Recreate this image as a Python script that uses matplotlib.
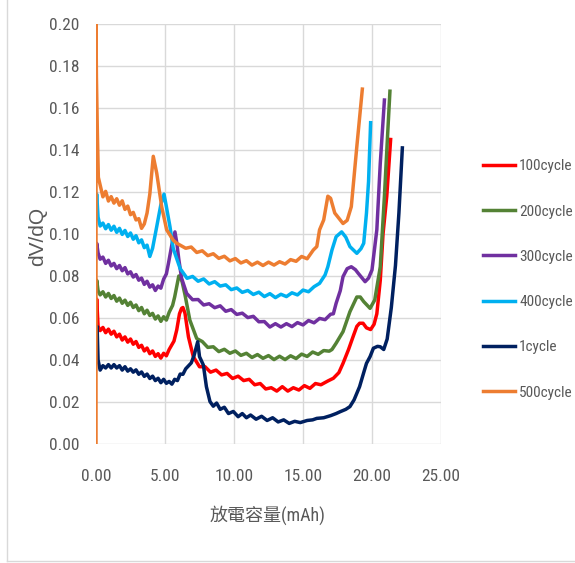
import numpy as np
import matplotlib
matplotlib.use("Agg")
import matplotlib.pyplot as plt
from matplotlib.lines import Line2D

plt.rcParams['font.family'] = ['Liberation Sans Narrow', 'Roboto Condensed', 'Roboto',
                               'Noto Sans CJK TC', 'DejaVu Sans']

# ---- data (capacity mAh, dV/dQ) ----
cap_100 = [0.02, 0.05, 0.15,
           0.3, 0.5, 0.7, 0.9, 1.1, 1.3, 1.5, 1.7, 1.9, 2.1, 2.3, 2.5, 2.7, 2.9, 3.1, 3.3,
           3.5, 3.7, 3.9, 4.1, 4.3, 4.5, 4.7, 4.9, 5.1, 5.3,
           5.65, 5.85, 6.05, 6.2, 6.3, 6.45, 6.7, 7.05,
           7.5, 7.9, 8.3, 8.7, 9.1, 9.5, 9.9, 10.3, 10.7, 11.1, 11.5, 11.9, 12.3, 12.7, 13.1,
           13.5, 13.9, 14.3, 14.7, 15.1, 15.5, 15.9, 16.3,
           16.8, 17.2, 17.6, 17.9, 18.3, 18.65, 18.9, 19.1, 19.35, 19.6, 19.9, 20.15, 20.35,
           20.6, 20.8, 21.07, 21.35]
dvdq_100 = [0.064, 0.069, 0.056,
            0.054, 0.0555, 0.053, 0.0547, 0.0523, 0.0537, 0.051, 0.0523, 0.0495, 0.051, 0.0485,
            0.050, 0.0475, 0.0488, 0.046, 0.047, 0.0443, 0.0457, 0.043, 0.0443, 0.0417, 0.043,
            0.0409, 0.0432, 0.042, 0.045,
            0.049, 0.0543, 0.062, 0.0646, 0.065, 0.0622, 0.051, 0.0416,
            0.0368, 0.0368, 0.0342, 0.0352, 0.0329, 0.0336, 0.0312, 0.0323, 0.0302, 0.0308,
            0.0282, 0.0288, 0.0262, 0.0268, 0.0252, 0.0273, 0.0252, 0.0268, 0.0257, 0.0278,
            0.0265, 0.0288, 0.0282,
            0.030, 0.0313, 0.034, 0.0384, 0.045, 0.0515, 0.056, 0.0575, 0.0575, 0.0553, 0.0545,
            0.057, 0.062, 0.078, 0.100, 0.118, 0.145]

cap_200 = [0.02, 0.05, 0.15,
           0.3, 0.5, 0.7, 0.9, 1.1, 1.3, 1.5, 1.7, 1.9, 2.1, 2.3, 2.5, 2.7, 2.9, 3.1, 3.3,
           3.5, 3.7, 3.9, 4.1, 4.3, 4.5, 4.7, 4.9, 5.1, 5.3,
           5.55, 5.7, 5.85, 6.0, 6.1, 6.25, 6.45, 6.8,
           7.3, 7.7, 8.1, 8.5, 8.9, 9.3, 9.7, 10.1, 10.5, 10.9, 11.3, 11.7, 12.1, 12.5, 12.9,
           13.3, 13.7, 14.1, 14.5, 14.9, 15.3, 15.7, 16.1, 16.5, 16.9,
           17.1, 17.4, 17.9, 18.4, 18.9, 19.15, 19.4, 19.86, 20.2, 20.6, 20.9, 21.15, 21.3]
dvdq_200 = [0.075, 0.078, 0.073,
            0.071, 0.0725, 0.070, 0.0717, 0.0693, 0.0707, 0.068, 0.0695, 0.067, 0.0685, 0.066,
            0.0675, 0.065, 0.0662, 0.0635, 0.065, 0.062, 0.0637, 0.0612, 0.0622, 0.0595, 0.061,
            0.0584, 0.0606, 0.059, 0.0627,
            0.066, 0.070, 0.075, 0.080, 0.080, 0.077, 0.071, 0.059,
            0.0502, 0.0488, 0.046, 0.0463, 0.044, 0.0451, 0.0432, 0.0443, 0.0422, 0.0432,
            0.0412, 0.0426, 0.0408, 0.0421, 0.0402, 0.0418, 0.0402, 0.042, 0.0407, 0.0428,
            0.0417, 0.0438, 0.0427, 0.0445, 0.0442,
            0.045, 0.048, 0.0535, 0.063, 0.070, 0.070, 0.0678, 0.0646, 0.0686, 0.0844, 0.118,
            0.1495, 0.168]

cap_300 = [0.02, 0.05, 0.15,
           0.3, 0.5, 0.7, 0.9, 1.1, 1.3, 1.5, 1.7, 1.9, 2.1, 2.3, 2.5, 2.7, 2.9, 3.1, 3.3,
           3.5, 3.7, 3.9, 4.1, 4.3, 4.5, 4.7, 4.9, 5.1,
           5.25, 5.5, 5.72, 5.85, 6.0, 6.2, 6.57,
           7.0, 7.4, 7.8, 8.2, 8.6, 9.0, 9.4, 9.8, 10.2, 10.6, 11.0, 11.4, 11.8, 12.2, 12.6,
           13.0, 13.4, 13.8, 14.2, 14.6, 15.0, 15.4, 15.8, 16.2, 16.6, 17.0,
           17.2, 17.4, 17.7, 17.9, 18.2, 18.5, 18.8, 19.0, 19.5, 19.75, 20.0, 20.35, 20.6, 20.9]
dvdq_300 = [0.093, 0.0956, 0.091,
            0.088, 0.089, 0.086, 0.0875, 0.0848, 0.086, 0.0835, 0.085, 0.0825, 0.084, 0.081,
            0.082, 0.0795, 0.0807, 0.078, 0.079, 0.076, 0.0775, 0.0747, 0.0758, 0.0731, 0.0752,
            0.0742, 0.0785, 0.081,
            0.086, 0.095, 0.101, 0.096, 0.088, 0.079, 0.0717,
            0.0687, 0.0688, 0.0662, 0.0668, 0.0649, 0.0658, 0.0632, 0.064, 0.0617, 0.0623,
            0.0602, 0.0608, 0.0582, 0.0583, 0.0557, 0.0573, 0.0557, 0.0573, 0.0559, 0.0578,
            0.0567, 0.0588, 0.0577, 0.0598, 0.0592, 0.0618,
            0.062, 0.067, 0.073, 0.0797, 0.0835, 0.0844, 0.083, 0.0813, 0.0773, 0.079, 0.0829,
            0.102, 0.1337, 0.1638]

cap_400 = [0.02, 0.05, 0.15,
           0.3, 0.5, 0.7, 0.9, 1.1, 1.3, 1.5, 1.7, 1.9, 2.1, 2.3, 2.5, 2.7, 2.9, 3.1, 3.3,
           3.5, 3.7, 3.9, 4.1,
           4.4, 4.7, 4.93, 5.1, 5.36, 5.6, 6.1,
           6.6, 7.0, 7.4, 7.8, 8.2, 8.6, 9.0, 9.4, 9.8, 10.2, 10.6, 11.0, 11.4, 11.8, 12.2,
           12.6, 13.0, 13.4, 13.8, 14.2, 14.6, 15.0, 15.4, 15.8,
           16.2, 16.6, 16.8, 17.1, 17.4, 17.8, 18.1, 18.4, 18.9, 19.2, 19.4, 19.6, 19.75, 19.9]
dvdq_400 = [0.115, 0.119, 0.108,
            0.1038, 0.1052, 0.1025, 0.1045, 0.1018, 0.1037, 0.1008, 0.1027, 0.0998, 0.1017,
            0.0988, 0.1005, 0.0975, 0.0992, 0.0958, 0.0972, 0.0935, 0.0947, 0.0893, 0.0932,
            0.1035, 0.114, 0.119, 0.113, 0.1035, 0.093, 0.0835,
            0.0789, 0.0798, 0.0775, 0.0786, 0.0762, 0.0773, 0.0752, 0.0758, 0.0735, 0.0743,
            0.0722, 0.0731, 0.0712, 0.0723, 0.0702, 0.0716, 0.0697, 0.0713, 0.0702, 0.072,
            0.071, 0.0733, 0.0725, 0.0749,
            0.0765, 0.0805, 0.0844, 0.0924, 0.0987, 0.101, 0.0985, 0.094, 0.0908, 0.093, 0.0956,
            0.110, 0.125, 0.153]

cap_1 = [0.03, 0.08, 0.15,
         0.3, 0.5, 0.7, 0.9, 1.1, 1.3, 1.5, 1.7, 1.9, 2.1, 2.3, 2.5, 2.7, 2.9, 3.1, 3.3, 3.5,
         3.7, 3.9, 4.1, 4.3, 4.5, 4.7, 4.9, 5.1, 5.3, 5.5, 5.7, 5.9, 6.1, 6.3, 6.5,
         6.9, 7.1, 7.37, 7.5, 7.78, 8.0, 8.26, 8.5, 8.74,
         9.0, 9.3, 9.6, 9.95, 10.3, 10.6, 10.9, 11.2, 11.6, 12.0, 12.4, 12.8, 13.2, 13.6,
         14.0, 14.4, 14.8, 15.3, 15.7, 16.0, 16.5, 17.0, 17.4, 17.7, 18.1, 18.4, 18.7, 19.1,
         19.4, 19.6, 19.86, 20.1, 20.4, 20.6, 20.85, 21.1, 21.4, 21.7, 21.95, 22.2]
dvdq_1 = [0.052, 0.056, 0.040,
          0.0352, 0.0373, 0.0362, 0.0378, 0.0362, 0.0378, 0.0362, 0.0373, 0.0352, 0.0368,
          0.0347, 0.0358, 0.0342, 0.0353, 0.0332, 0.0343, 0.0322, 0.0333, 0.0312, 0.0323,
          0.0302, 0.0313, 0.0292, 0.0308, 0.0289, 0.0298, 0.0285, 0.0308, 0.0302, 0.0333,
          0.0332, 0.0358,
          0.0386, 0.042, 0.0487, 0.0416, 0.0376, 0.0273, 0.0202, 0.018, 0.0195,
          0.0165, 0.0175, 0.0145, 0.0155, 0.013, 0.0145, 0.0125, 0.0138, 0.0118, 0.0132,
          0.0112, 0.0125, 0.0105, 0.0115, 0.0098, 0.0108, 0.0102, 0.0112, 0.0115, 0.0122,
          0.0125, 0.0135, 0.0145, 0.0154, 0.0165, 0.0178, 0.021, 0.0273,
          0.034, 0.0384, 0.0416, 0.0456, 0.0465, 0.0463, 0.045, 0.050, 0.065, 0.085, 0.110,
          0.141]

cap_500 = [0.0, 0.0, 0.03, 0.1, 0.17,
           0.5, 0.7, 0.9, 1.1, 1.3, 1.5, 1.7, 1.9, 2.1, 2.3, 2.5, 2.7, 2.9, 3.1, 3.3, 3.5,
           3.7, 3.9, 4.15, 4.4, 4.76, 5.12, 5.6, 5.85,
           6.5, 6.9, 7.3, 7.7, 8.1, 8.5, 8.9, 9.3, 9.7, 10.1, 10.5, 10.9, 11.3, 11.7, 12.1,
           12.5, 12.9, 13.3, 13.7, 14.1, 14.5, 14.9, 15.3,
           15.6, 15.75, 16.0, 16.2, 16.5, 16.8, 17.0, 17.3, 17.9, 18.2, 18.5, 18.9, 19.3]
dvdq_500 = [0.0, 0.200, 0.175, 0.148, 0.127,
            0.1177, 0.1203, 0.1157, 0.1178, 0.1147, 0.1168, 0.1137, 0.1158, 0.1117, 0.1133,
            0.1092, 0.1103, 0.1067, 0.1073, 0.1027, 0.1048,
            0.110, 0.119, 0.137, 0.129, 0.113, 0.102, 0.097, 0.0956,
            0.0932, 0.0938, 0.0912, 0.092, 0.0897, 0.0906, 0.0884, 0.0894, 0.0872, 0.0883,
            0.0862, 0.0873, 0.0852, 0.0866, 0.085, 0.0866, 0.0852, 0.0868, 0.0857, 0.0878,
            0.087, 0.0893, 0.0882,
            0.091, 0.0924, 0.094, 0.102, 0.1067, 0.118, 0.117, 0.110, 0.105, 0.1065, 0.113,
            0.1416, 0.169]

labels = ['100cycle', '200cycle', '300cycle', '400cycle', '1cycle', '500cycle']
caps = [cap_100, cap_200, cap_300, cap_400, cap_1, cap_500]
dvdqs = [dvdq_100, dvdq_200, dvdq_300, dvdq_400, dvdq_1, dvdq_500]
colors = ['#FF0000', '#548235', '#7030A0', '#00B0F0', '#002060', '#ED7D31']

x_ticks = [0, 5, 10, 15, 20, 25]
y_ticks = [0.0, 0.02, 0.04, 0.06, 0.08, 0.10, 0.12, 0.14, 0.16, 0.18, 0.20]

txt = '#595959'
grid = '#D9D9D9'

fig = plt.figure(figsize=(5.75, 5.63), dpi=100, facecolor='white')
ax = fig.add_axes([96/575, 1-444/563, 345/575, 420/563])

for c, d, col, lab in zip(caps, dvdqs, colors, labels):
    ax.plot(c, d, color=col, lw=2.5, label=lab, solid_joinstyle='round')

ax.set_xlim(0, 25)
ax.set_ylim(0, 0.2)
ax.set_xticks(x_ticks)
ax.set_yticks(y_ticks)
ax.set_xticklabels(['%.2f' % v for v in x_ticks])
ax.set_yticklabels(['%.2f' % v for v in y_ticks])
ax.grid(True, color=grid, lw=1.0)
ax.set_axisbelow(True)
for s in ax.spines.values():
    s.set_visible(False)
ax.tick_params(axis='both', length=0, labelsize=12.5, labelcolor=txt)
ax.tick_params(axis='y', pad=12)
ax.tick_params(axis='x', pad=18)

fig.text(268/575, 1-515/563, '放電容量(mAh)', ha='center', va='center',
         fontsize=13, color=txt)
fig.text(38/575, 1-236/563, 'dV/dQ', ha='center', va='center', rotation=90,
         fontsize=15, color=txt, family=['Liberation Sans', 'DejaVu Sans'])

ax.legend(loc='center left', bbox_to_anchor=(483/575, 1-279.5/563),
          bbox_transform=fig.transFigure, frameon=False, borderpad=0, borderaxespad=0,
          handlelength=2.1, handletextpad=0.27, labelspacing=2.05,
          prop={'size': 11}, labelcolor=txt)

# chart-area border (left and bottom visible)
fig.add_artist(Line2D([7/575, 7/575], [2/563, 1], transform=fig.transFigure, color=grid, lw=1))
fig.add_artist(Line2D([7/575, 1], [2/563, 2/563], transform=fig.transFigure, color=grid, lw=1))

fig.savefig('out.png', dpi=100, facecolor='white')
